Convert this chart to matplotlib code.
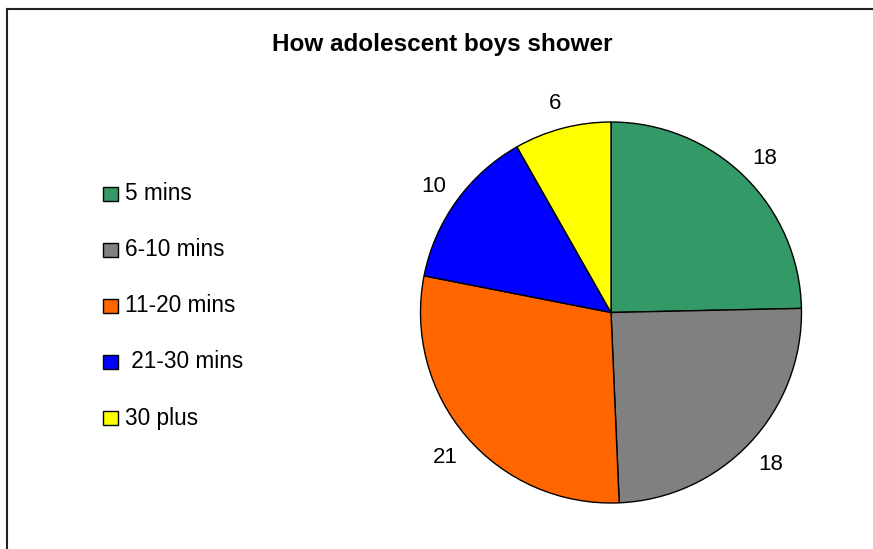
import matplotlib.pyplot as plt
from matplotlib.patches import Rectangle
from matplotlib.lines import Line2D

plt.rcParams['font.family'] = ['Liberation Sans', 'DejaVu Sans']

# Data
categories = ['5 mins', '6-10 mins', '11-20 mins', ' 21-30 mins', '30 plus']
values = [18, 18, 21, 10, 6]
colors = ['#339966', '#808080', '#FF6600', '#0000FF', '#FFFF00']

W, H = 873, 549
fig = plt.figure(figsize=(W / 100, H / 100), dpi=100)

# outer chart border (left and top edges visible)
fig.add_artist(Line2D([7 / W, 7 / W], [0, 1 - 9 / H], transform=fig.transFigure,
                      color='#222222', lw=1.5))
fig.add_artist(Line2D([7 / W, 1], [1 - 9 / H, 1 - 9 / H], transform=fig.transFigure,
                      color='#222222', lw=1.5))

# pie
cx, cy, r = 611, 312.5, 190.5
ax = fig.add_axes([(cx - r) / W, (H - cy - r) / H, 2 * r / W, 2 * r / H])
wedges, texts = ax.pie(values, colors=colors, startangle=90, counterclock=False,
                       labels=[str(v) for v in values], labeldistance=1.15,
                       wedgeprops={'edgecolor': 'black', 'linewidth': 1},
                       textprops={'fontsize': 16, 'color': 'black'})
for t in texts:
    t.set_ha('center')
    t.set_va('center_baseline')
ax.set_xlim(-1, 1)
ax.set_ylim(-1, 1)
ax.set_aspect('equal')

# title
fig.text(442 / W, 1 - 51 / H, 'How adolescent boys shower', ha='center', va='baseline',
         fontsize=17.5, fontweight='bold')

# legend
for i, (lab, col) in enumerate(zip(categories, colors)):
    yc = 194 + i * 56
    fig.add_artist(Rectangle((103 / W, 1 - (yc + 7) / H), 15 / W, 14 / H,
                             transform=fig.transFigure, facecolor=col,
                             edgecolor='black', lw=1))
    fig.text(125 / W, 1 - yc / H, lab, ha='left', va='center', fontsize=16.3)

fig.savefig('out.png', dpi=100)
